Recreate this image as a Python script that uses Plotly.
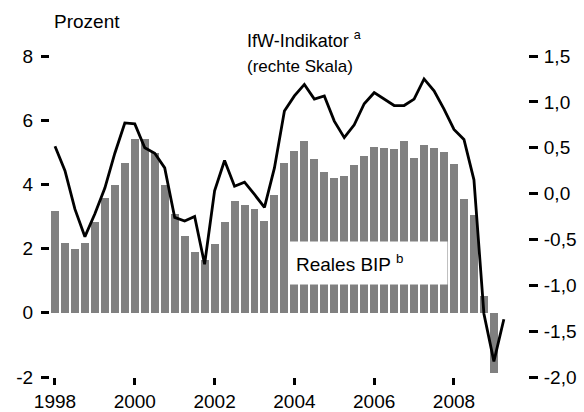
import plotly.graph_objects as go

# Quarterly data, 1998Q1 ...
start_year = 1998
bip = [3.16, 2.16, 2.00, 2.19, 2.84, 3.57, 3.99, 4.66, 5.40, 5.42,
       4.97, 3.97, 3.07, 2.39, 1.90, 1.63, 2.14, 2.82, 3.47, 3.35,
       3.24, 2.87, 3.68, 4.67, 5.05, 5.36, 4.80, 4.38, 4.19, 4.27,
       4.60, 4.88, 5.15, 5.14, 5.10, 5.36, 4.82, 5.22, 5.12, 5.01,
       4.64, 3.54, 3.05, 0.53, -1.89]
ifw = [0.515, 0.25, -0.17, -0.47, -0.22, 0.06, 0.44, 0.77, 0.76, 0.50,
       0.44, 0.28, -0.26, -0.30, -0.25, -0.77, 0.03, 0.36, 0.08, 0.125,
       -0.01, -0.15, 0.28, 0.90, 1.065, 1.19, 1.03, 1.065, 0.79, 0.61,
       0.75, 0.98, 1.10, 1.03, 0.96, 0.96, 1.03, 1.25, 1.12, 0.92,
       0.70, 0.59, 0.15, -1.31, -1.83, -1.37]

x_bip = [start_year + i * 0.25 for i in range(len(bip))]
x_ifw = [start_year + i * 0.25 for i in range(len(ifw))]

x_ticks = [1998, 2000, 2002, 2004, 2006, 2008]
left_ticks = [8, 6, 4, 2, 0, -2]
left_text = ["8", "6", "4", "2", "0", "-2"]
right_ticks = [1.5, 1.0, 0.5, 0.0, -0.5, -1.0, -1.5, -2.0]
right_text = ["1,5", "1,0", "0,5", "0,0", "-0,5", "-1,0", "-1,5", "-2,0"]

FONT = "Liberation Sans, Arial, sans-serif"
FS = 19

fig = go.Figure()
fig.add_trace(go.Bar(x=x_bip, y=bip, width=0.2, marker=dict(color="#808080", line=dict(width=0)),
                     yaxis="y", showlegend=False))
fig.add_trace(go.Scatter(x=x_ifw, y=ifw, mode="lines", line=dict(color="black", width=2.8),
                         yaxis="y2", showlegend=False))

fig.update_layout(
    width=584, height=412,
    margin=dict(l=50, r=56, t=56, b=35),
    paper_bgcolor="white", plot_bgcolor="white",
    font=dict(family=FONT, size=FS, color="black"),
    bargap=0,
    xaxis=dict(range=[1997.875, 2009.855], tickvals=x_ticks, ticktext=[str(v) for v in x_ticks],
               ticks="outside", ticklen=7, tickwidth=2.5, tickcolor="black",
               showgrid=False, zeroline=False, showline=False, automargin=False,
               tickfont=dict(family=FONT, size=FS)),
    yaxis=dict(range=[-2, 8], tickvals=left_ticks, ticktext=left_text,
               ticks="outside", ticklen=8, tickwidth=2.5, tickcolor="black",
               showgrid=False, zeroline=False, showline=False, automargin=False,
               ticklabelstandoff=4,
               tickfont=dict(family=FONT, size=FS)),
    yaxis2=dict(range=[-2, 1.5], tickvals=right_ticks, ticktext=right_text,
                overlaying="y", side="right",
                ticks="outside", ticklen=9, tickwidth=2.5, tickcolor="black",
                showgrid=False, zeroline=False, showline=False, automargin=False,
                ticklabelstandoff=2,
                tickfont=dict(family=FONT, size=FS)),
    annotations=[
        dict(text="Prozent", xref="paper", yref="paper", x=0.004, y=1.106,
             xanchor="left", yanchor="middle", showarrow=False, font=dict(size=19)),
        dict(text="IfW-Indikator <sup>a</sup>", xref="paper", yref="paper", x=0.408, y=1.05,
             xanchor="left", yanchor="middle", showarrow=False, font=dict(size=18)),
        dict(text="(rechte Skala)", xref="paper", yref="paper", x=0.408, y=0.966,
             xanchor="left", yanchor="middle", showarrow=False, font=dict(size=17)),
        dict(text="Reales BIP <sup>b</sup>", xref="paper", yref="paper", x=0.6663, y=0.355,
             xanchor="center", yanchor="middle", showarrow=False, font=dict(size=19),
             bgcolor="white", width=145, height=30, borderpad=6, align="left"),
    ],
)

fig.write_html("out.html", config={"displayModeBar": False},
               post_script="document.body.style.margin='0';document.body.style.overflow='hidden';")
